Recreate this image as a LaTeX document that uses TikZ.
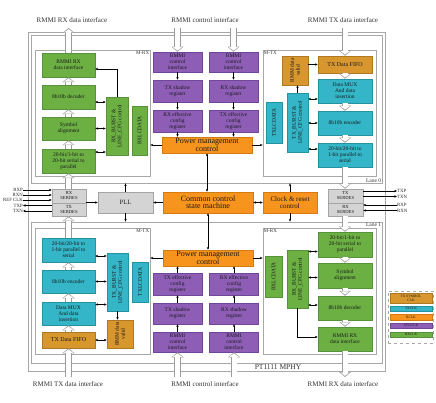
\documentclass[tikz,border=0pt]{standalone}
\usepackage{fontspec}
\setmainfont{Liberation Serif}
\usetikzlibrary{arrows.meta}

\definecolor{rxgreen}{HTML}{6CB044}
\definecolor{rxgreenD}{HTML}{55923A}
\definecolor{txcyan}{HTML}{34B6C8}
\definecolor{txcyanD}{HTML}{2592A2}
\definecolor{cfgpurple}{HTML}{8E5EB6}
\definecolor{cfgpurpleD}{HTML}{6F4698}
\definecolor{ctlorange}{HTML}{F7941E}
\definecolor{ctlorangeD}{HTML}{D67B12}
\definecolor{fifobrown}{HTML}{D8962F}
\definecolor{fifobrownD}{HTML}{B07820}
\definecolor{serdesgray}{HTML}{D4D4D4}
\definecolor{serdesgrayD}{HTML}{A4A4A4}
\definecolor{framegray}{HTML}{A8A8A8}
\definecolor{fatgray}{HTML}{9C9C9C}

\newcommand{\boxfont}{\fontsize{5.5}{6}\selectfont}
\newcommand{\pmfont}{\fontsize{8}{7.4}\selectfont}
\newcommand{\iffont}{\fontsize{7}{8}\selectfont}
\newcommand{\iofont}{\fontsize{4.8}{5}\selectfont}
\newcommand{\sdfont}{\fontsize{4.6}{5}\selectfont}
\newcommand{\legfont}{\fontsize{3.6}{3.9}\selectfont}
\newcommand{\hollow}[2]{\draw[fatout] (#1) -- (#2); \draw[fatin] (#1) -- (#2);}

\tikzset{
    wh/.style 2 args = {minimum width = #1pt, minimum height = #2pt},
    blk/.style = {draw, line width = 0.5pt, inner sep = 0.3pt, align = center, text = black!90, font = \boxfont},
    gbox/.style = {blk, fill = rxgreen, draw = rxgreenD},
    cbox/.style = {blk, fill = txcyan, draw = txcyanD},
    pbox/.style = {blk, fill = cfgpurple, draw = cfgpurpleD},
    obox/.style = {blk, fill = ctlorange, draw = ctlorangeD},
    bbox/.style = {blk, fill = fifobrown, draw = fifobrownD},
    sbox/.style = {blk, fill = serdesgray, draw = serdesgrayD, font = \sdfont},
    rot/.style = {rotate = 90, align = center, inner sep = 0pt, font = \boxfont, text = black!90},
    lanebox/.style = {draw = framegray, line width = 0.7pt, inner sep = 0pt},
    lab/.style = {inner sep = 1pt, font = \fontsize{5}{6}\selectfont, text = black!80},
    iflab/.style = {inner sep = 1pt, font = \iffont, text = black!80},
    io/.style = {inner sep = 0pt, font = \iofont, text = black!85},
    legitem/.style = {inner sep = 0pt, font = \legfont},
    fatout/.style = {draw = fatgray, line width = 6.5pt, -{Triangle[width = 12pt, length = 5pt, line width = 0pt]}},
    fatin/.style = {draw = white, line width = 5pt, shorten > = 1.2pt, -{Triangle[width = 9.2pt, length = 3.3pt, line width = 0pt]}}
}

\begin{document}
\begin{tikzpicture}[x = 1pt, y = -1pt, >={Stealth[length = 2.8pt, width = 2.4pt]}, line width = 0.45pt]
    \useasboundingbox (0,0) rectangle (436,403);

    \node[lanebox, wh={357}{339}] (mphy) at (206.5,201.5) {};
    \node[lanebox, wh={351}{148}] (lane0) at (206.5,109) {};
    \node[lanebox, wh={351}{141}] (lane1) at (206.5,292.5) {};
    \node[lanebox, wh={115}{126}] (mrx0) at (92.5,113) {};
    \node[lanebox, wh={113}{126}] (mtx0) at (319.5,113) {};
    \node[lanebox, wh={115}{126}] (mtx1) at (92.5,291) {};
    \node[lanebox, wh={113}{126}] (mrx1) at (319.5,291) {};

    \node[lab, anchor = north east] (mrx0l) at (mrx0.north east) {M-RX};
    \node[lab, anchor = north west] (mtx0l) at (mtx0.north west) {M-TX};
    \node[lab, anchor = north east] (mtx1l) at (mtx1.north east) {M-TX};
    \node[lab, anchor = north west] (mrx1l) at (mrx1.north west) {M-RX};
    \node[lab, anchor = south east, font = \fontsize{5.5}{6}\selectfont] (lane0l) at (lane0.south east) {Lane 0};
    \node[lab, anchor = north east, font = \fontsize{5.5}{6}\selectfont] (lane1l) at (lane1.north east) {Lane 1};
    \node[iflab, font = \fontsize{7.5}{8}\selectfont] (mphyl) at (278,367.5) {PT1111 MPHY};

    \node[iflab] (rxtop) at (72,20) {RMMI RX data interface};
    \node[iflab] (ctltop) at (205,20) {RMMI control interface};
    \node[iflab] (txtop) at (343,20) {RMMI TX data interface};
    \node[iflab] (txbot) at (68,384) {RMMI TX data interface};
    \node[iflab] (ctlbot) at (205,384) {RMMI control interface};
    \node[iflab] (rxbot) at (343,384) {RMMI RX data interface};

    % lane 0, M-RX
    \node[gbox, wh={53}{24}] (rxif0) at (68.5,65) {RMMI RX\\data interface};
    \node[gbox, wh={53}{24}] (dec0) at (68.5,97) {8b10b decoder};
    \node[gbox, wh={53}{23}] (sym0) at (68.5,128.5) {Symbol\\alignment};
    \node[gbox, wh={53}{24}] (s2p0) at (68.5,161) {20-bit/1-bit to\\20-bit serial to\\parallel};
    \node[gbox, wh={22}{58}] (rxbc0) at (117,126) {};
    \node[rot] (rxbc0t) at (rxbc0) {RX\_BURST \&\\LINE\_CFG control};
    \node[gbox, wh={15}{49}] (rxlc0) at (139.5,130.5) {};
    \node[rot] (rxlc0t) at (rxlc0) {RXLCDATA};

    % lane 0, registers
    \node[pbox, wh={49}{20}] (ci0a) at (177.5,62) {RMMI\\control\\interface};
    \node[pbox, wh={49}{22}] (sh0a) at (177.5,91) {TX shadow\\register};
    \node[pbox, wh={49}{22}] (ef0a) at (177.5,121) {RX effective\\config\\register};
    \node[pbox, wh={49}{20}] (ci0b) at (233.5,62) {RMMI\\control\\interface};
    \node[pbox, wh={49}{22}] (sh0b) at (233.5,91) {RX shadow\\register};
    \node[pbox, wh={49}{22}] (ef0b) at (233.5,121) {TX effective\\config\\register};
    \node[obox, wh={90}{16}, font = \pmfont] (pm0) at (207,145) {Power management\\control};

    % lane 0, M-TX
    \node[cbox, wh={16}{41}] (txlc0) at (274,122.5) {};
    \node[rot] (txlc0t) at (txlc0) {TXLCDATA};
    \node[cbox, wh={21}{59}] (txbc0) at (297.5,122.5) {};
    \node[rot] (txbc0t) at (txbc0) {TX\_BURST \&\\LINE\_CFG control};
    \node[bbox, wh={26}{29}] (rmmv0) at (295,70.5) {};
    \node[rot] (rmmv0t) at (rmmv0) {RMM data\\valid};
    \node[bbox, wh={54}{17}, font = \fontsize{6}{7}\selectfont] (fifo0) at (345,64.5) {TX Data FIFO};
    \node[cbox, wh={54}{24}] (mux0) at (345,91) {Data MUX\\And data\\insertion};
    \node[cbox, wh={54}{24}] (enc0) at (345,123) {8b10b encoder};
    \node[cbox, wh={54}{24}] (p2s0) at (345,155) {20-bit/20-bit to\\1-bit parallel to\\serial};

    % common part
    \node[sbox, wh={34}{14}] (rxsd0) at (69,196) {RX\\SERDES};
    \node[sbox, wh={34}{13}] (txsd0) at (69,209.5) {TX\\SERDES};
    \node[sbox, wh={55}{21}, font = \fontsize{6.5}{7}\selectfont] (pll) at (125.5,202.5) {PLL};
    \node[obox, wh={90}{21}, font = \pmfont] (ccsm) at (208,202.5) {Common control\\state machine};
    \node[obox, wh={54}{21}, font = \fontsize{7}{7}\selectfont] (clk) at (290,202.5) {Clock \& reset\\control};
    \node[sbox, wh={35}{14}] (txsd1) at (345.5,196) {TX\\SERDES};
    \node[sbox, wh={35}{13}] (rxsd1) at (345.5,209.5) {RX\\SERDES};

    % lane 1, M-TX
    \node[cbox, wh={53}{24}] (p2s1) at (68.5,250) {20-bit/20-bit to\\1-bit parallel to\\serial};
    \node[cbox, wh={53}{23}] (enc1) at (68.5,281.5) {8b10b encoder};
    \node[cbox, wh={53}{23}] (mux1) at (68.5,313.5) {Data MUX\\And data\\insertion};
    \node[bbox, wh={53}{16}, font = \fontsize{6}{7}\selectfont] (fifo1) at (68.5,340) {TX Data FIFO};
    \node[cbox, wh={21}{58}] (txbc1) at (117.5,282) {};
    \node[rot] (txbc1t) at (txbc1) {TX\_BURST \&\\LINE\_CFG control};
    \node[cbox, wh={16}{40}] (txlc1) at (140,282) {};
    \node[rot] (txlc1t) at (txlc1) {TXLCDATA};
    \node[bbox, wh={26}{28}] (rmmv1) at (120,334) {};
    \node[rot] (rmmv1t) at (rmmv1) {RMM data\\valid};

    % lane 1, registers
    \node[pbox, wh={49}{22}] (ef1a) at (177.5,284) {TX effective\\config\\register};
    \node[pbox, wh={49}{21}] (sh1a) at (177.5,313.5) {TX shadow\\register};
    \node[pbox, wh={49}{20}] (ci1a) at (177.5,342) {RMMI\\control\\interface};
    \node[pbox, wh={49}{22}] (ef1b) at (234,284) {RX effective\\config\\register};
    \node[pbox, wh={49}{21}] (sh1b) at (234,313.5) {RX shadow\\register};
    \node[pbox, wh={49}{20}] (ci1b) at (234,342) {RMMI\\control\\interface};
    \node[obox, wh={90}{16}, font = \pmfont] (pm1) at (208,258) {Power management\\control};

    % lane 1, M-RX
    \node[gbox, wh={54}{25}] (s2p1) at (345,244.5) {20-bit/1-bit to\\20-bit serial to\\parallel};
    \node[gbox, wh={54}{25}] (sym1) at (345,275.5) {Symbol\\alignment};
    \node[gbox, wh={54}{24}] (dec1) at (345,308) {8b10b decoder};
    \node[gbox, wh={54}{24}] (rxif1) at (345,339) {RMMI RX\\data interface};
    \node[gbox, wh={21}{58}] (rxbc1) at (297.5,279) {};
    \node[rot] (rxbc1t) at (rxbc1) {RX\_BURST \&\\LINE\_CFG control};
    \node[gbox, wh={17}{41}] (rxlc1) at (273.5,276.5) {};
    \node[rot] (rxlc1t) at (rxlc1) {RXLCDATA};

    % legend
    \node[draw = framegray, dashed, line width = 0.5pt, wh={45}{52}] (leg) at (410.5,317) {};
    \node[bbox, legitem, wh={42}{10}] (lgsym) at (411,298) {TX SYMBOL\\CLK};
    \node[cbox, legitem, wh={42}{5.5}] (lgtx) at (411,308.5) {TXCLK};
    \node[obox, legitem, wh={42}{5.5}] (lgr) at (411,317) {RCLK};
    \node[pbox, legitem, wh={42}{5.5}] (lgcfg) at (411,325.5) {CFGCLK};
    \node[gbox, legitem, wh={42}{5.5}] (lgrx) at (411,334.5) {RXCLK};

    % serial pins
    \node[io, anchor = east] (rxpl) at (23,190) {RXP};
    \node[io, anchor = east] (rxnl) at (23,195) {RXN};
    \node[io, anchor = east] (clkl) at (23,200) {REF CLK};
    \node[io, anchor = east] (txpl) at (23,205.5) {TXP};
    \node[io, anchor = east] (txnl) at (23,211) {TXN};
    \node[io, anchor = west] (txpr) at (397,191) {TXP};
    \node[io, anchor = west] (txnr) at (397,196.5) {TXN};
    \node[io, anchor = west] (rxpr) at (397,205) {RXP};
    \node[io, anchor = west] (rxnr) at (397,210.5) {RXN};

    \draw[->] (rxpl.east) -- (rxpl.east -| rxsd0.west);
    \draw[->] (rxnl.east) -- (rxnl.east -| rxsd0.west);
    \draw[->] (clkl.east) -- (clkl.east -| rxsd0.west);
    \draw[->] (txpl.east -| txsd0.west) -- (txpl.east);
    \draw[->] (txnl.east -| txsd0.west) -- (txnl.east);
    \draw[->] (txpr.west -| txsd1.east) -- (txpr.west);
    \draw[->] (txnr.west -| txsd1.east) -- (txnr.west);
    \draw[->] (rxpr.west) -- (rxpr.west -| rxsd1.east);
    \draw[->] (rxnr.west) -- (rxnr.west -| rxsd1.east);

    \draw[->] (rxbc0.north) |- ([yshift = -4pt]rxif0.east);
    \draw[<->] ([yshift = -5pt]dec0.east) -- ([yshift = -5pt]dec0.east -| rxbc0.west);
    \draw[<->] (sym0.east) -- (sym0.east -| rxbc0.west);
    \draw[<->] ([yshift = 9pt]s2p0.east) -- ([yshift = 9pt]s2p0.east -| rxbc0.west);
    \draw[->] (ci0a) -- (sh0a);
    \draw[->] (sh0a) -- (ef0a);
    \draw[->] (ef0a.south) -- (ef0a.south |- pm0.north);
    \draw[->] (ci0b) -- (sh0b);
    \draw[->] (sh0b) -- (ef0b);
    \draw[->] (ef0b.south) -- (ef0b.south |- pm0.north);
    \draw[->] (pm0.west) -- (pm0.west -| mrx0.east);
    \draw[->] (pm0.east) -- (pm0.east -| mtx0.west);
    \draw[->] (txbc0.north) -- (txbc0.north |- rmmv0.south);
    \draw[->] (rmmv0.east |- fifo0.west) -- (fifo0.west);
    \draw[<->] ([yshift = -8pt]mux0.west) -- ([yshift = -8pt]mux0.west -| txbc0.east);
    \draw[<->] (enc0.west) -- (enc0.west -| txbc0.east);
    \draw[<->] ([yshift = 6pt]p2s0.west) -- ([yshift = 6pt]p2s0.west -| txbc0.east);

    \draw[->] (rxsd0.east |- pll.west) -- (pll.west);
    \draw[->] (ccsm.west) -- (pll.east);
    \draw[<->] (ccsm.east) -- (clk.west);
    \draw[->] (pll.north) -- (pll.north |- lane0.south);
    \draw[->] (pll.south) -- (pll.south |- lane1.north);
    \draw[->] (clk.north) -- (clk.north |- lane0.south);
    \draw[->] (clk.south) -- (clk.south |- lane1.north);
    \draw[<->] (pm0.south) -- (pm0.south |- ccsm.north);
    \draw[<->] (ccsm.south) -- (ccsm.south |- pm1.north);

    \draw[<->] ([yshift = -6pt]p2s1.east) -- ([yshift = -6pt]p2s1.east -| txbc1.west);
    \draw[<->] (enc1.east) -- (enc1.east -| txbc1.west);
    \draw[<->] ([yshift = 9pt]mux1.east) -- ([yshift = 9pt]mux1.east -| txbc1.west);
    \draw[<->] (fifo1.east) -- (fifo1.east -| rmmv1.west);
    \draw[->] (txbc1.south) -- (txbc1.south |- rmmv1.north);
    \draw[->] (ci1a) -- (sh1a);
    \draw[->] (sh1a) -- (ef1a);
    \draw[->] (ef1a.north) -- (ef1a.north |- pm1.south);
    \draw[->] (ci1b) -- (sh1b);
    \draw[->] (sh1b) -- (ef1b);
    \draw[->] (ef1b.north) -- (ef1b.north |- pm1.south);
    \draw[->] (pm1.west) -- (pm1.west -| mtx1.east);
    \draw[->] (pm1.east) -- (pm1.east -| mrx1.west);
    \draw[<->] ([yshift = -7pt]s2p1.west) -- ([yshift = -7pt]s2p1.west -| rxbc1.east);
    \draw[<->] ([yshift = -2pt]sym1.west) -- ([yshift = -2pt]sym1.west -| rxbc1.east);
    \draw[<->] ([yshift = 3pt]dec1.west) -- ([yshift = 3pt]dec1.west -| rxbc1.east);
    \draw[->] (rxbc1.south) |- ([yshift = 2pt]rxif1.west);

    \coordinate (rxtopa) at (68.5,28);
    \coordinate (ctltopa) at (177.5,28);
    \coordinate (ctltopb) at (233.5,28);
    \coordinate (txtopa) at (345,28);
    \coordinate (txbota) at (68.5,377);
    \coordinate (ctlbota) at (177.5,377);
    \coordinate (ctlbotb) at (234,377);
    \coordinate (rxbota) at (345,377);

    \hollow{rxif0.north}{rxtopa}
    \hollow{dec0.north}{rxif0.south}
    \hollow{sym0.north}{dec0.south}
    \hollow{s2p0.north}{sym0.south}
    \hollow{rxsd0.north -| s2p0.south}{s2p0.south}
    \hollow{ctltopa}{ci0a.north}
    \hollow{ctltopb}{ci0b.north}
    \hollow{txtopa}{fifo0.north}
    \hollow{fifo0.south}{mux0.north}
    \hollow{mux0.south}{enc0.north}
    \hollow{enc0.south}{p2s0.north}
    \hollow{p2s0.south}{p2s0.south |- txsd1.north}
    \hollow{txbota}{fifo1.south}
    \hollow{fifo1.north}{mux1.south}
    \hollow{mux1.north}{enc1.south}
    \hollow{enc1.north}{p2s1.south}
    \hollow{p2s1.north}{p2s1.north |- txsd0.south}
    \hollow{ctlbota}{ci1a.south}
    \hollow{ctlbotb}{ci1b.south}
    \hollow{rxsd1.south -| s2p1.north}{s2p1.north}
    \hollow{s2p1.south}{sym1.north}
    \hollow{sym1.south}{dec1.north}
    \hollow{dec1.south}{rxif1.north}
    \hollow{rxif1.south}{rxbota}
\end{tikzpicture}
\end{document}
